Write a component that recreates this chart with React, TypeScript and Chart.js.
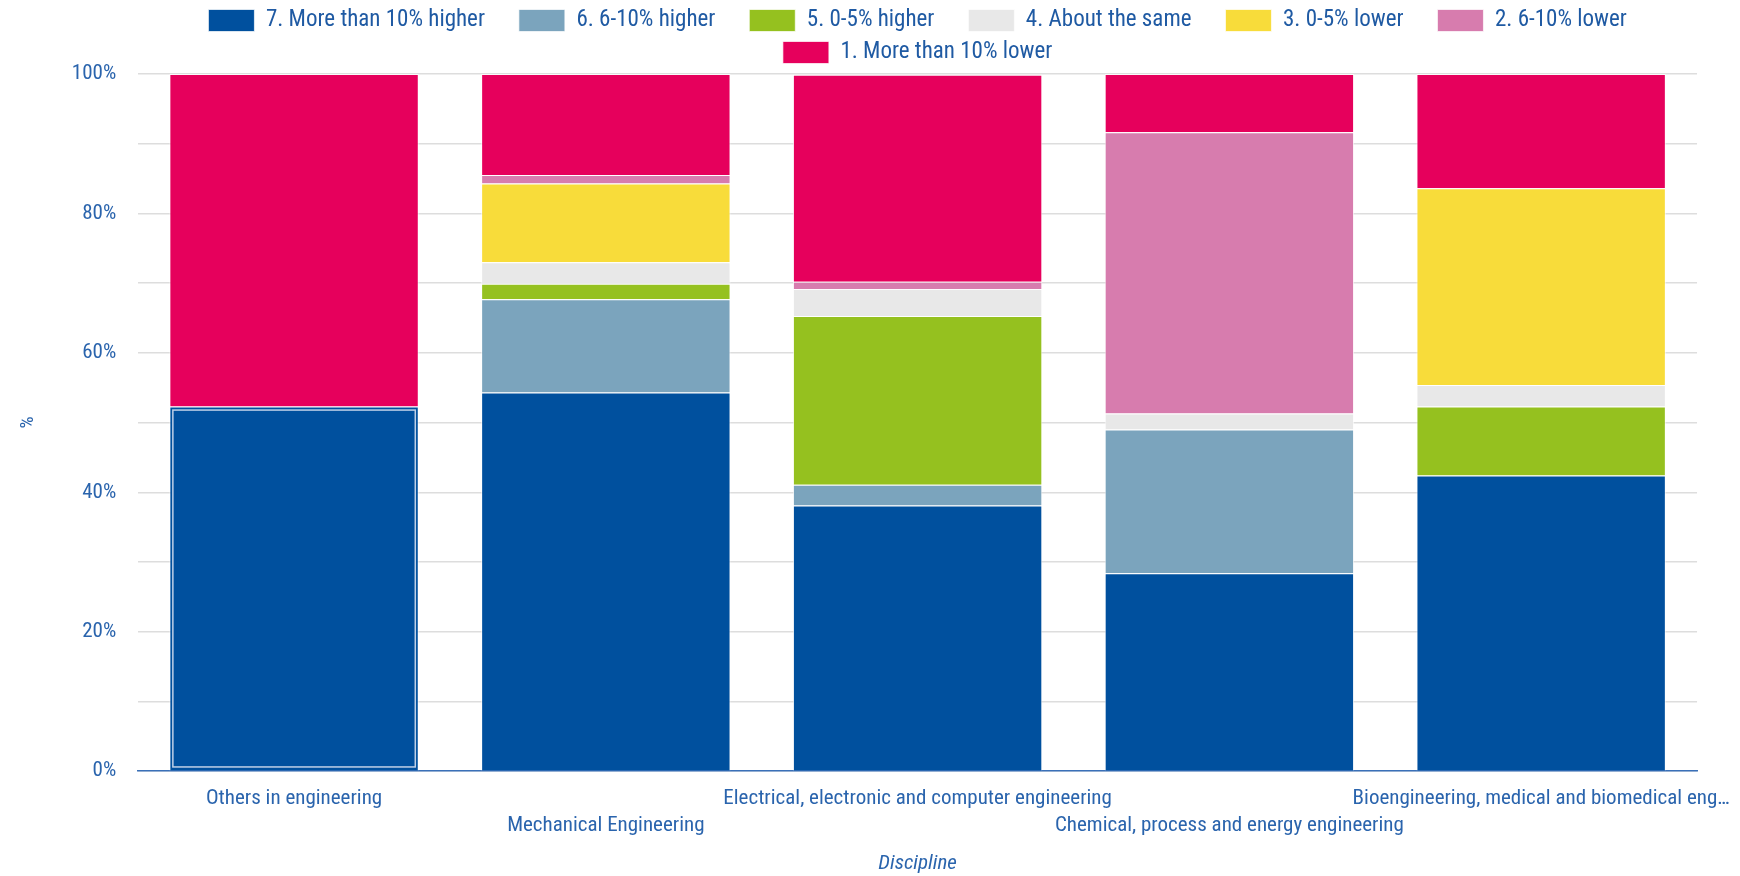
import React, { useEffect, useRef } from "react";
import { Chart, registerables } from "chart.js";

Chart.register(...registerables);

const categories: string[][] = [
  ["Others in engineering"],
  ["", "Mechanical Engineering"],
  ["Electrical, electronic and computer engineering"],
  ["", "Chemical, process and energy engineering"],
  ["Bioengineering, medical and biomedical eng…"],
];

const seriesNames = [
  "7. More than 10% higher",
  "6. 6-10% higher",
  "5. 0-5% higher",
  "4. About the same",
  "3. 0-5% lower",
  "2. 6-10% lower",
  "1. More than 10% lower",
];

const moreThan10Higher = [52.3, 54.3, 38.1, 28.4, 42.4];
const higher6to10 = [0, 13.4, 3.0, 20.6, 0];
const higher0to5 = [0, 2.2, 24.2, 0, 9.9];
const aboutSame = [0, 3.1, 3.85, 2.3, 3.1];
const lower0to5 = [0, 11.3, 0, 0, 28.2];
const lower6to10 = [0, 1.2, 1.05, 40.35, 0];
const moreThan10Lower = [47.7, 14.5, 29.7, 8.35, 16.4];

const seriesValues = [
  moreThan10Higher,
  higher6to10,
  higher0to5,
  aboutSame,
  lower0to5,
  lower6to10,
  moreThan10Lower,
];

const seriesColors = [
  "#00509e",
  "#7ba4bd",
  "#95c11f",
  "#e8e8e8",
  "#f8dc3a",
  "#d77cae",
  "#e6005c",
];

const yTicks = [0, 10, 20, 30, 40, 50, 60, 70, 80, 90, 100];

const FONT = "'Roboto Condensed', 'Liberation Sans Narrow', 'Arial Narrow', Roboto, sans-serif";
const TEXT = "#2a64ad";
const LEGEND_GAP = "\u2002\u2002\u2009";

const highlightPlugin = {
  id: "highlightFirst",
  afterDatasetsDraw(chart: any) {
    const meta = chart.getDatasetMeta(0);
    const el = meta && meta.data && meta.data[0];
    if (!el) return;
    const { x, y, base, width } = el.getProps(["x", "y", "base", "width"], true);
    const ctx = chart.ctx;
    ctx.save();
    ctx.strokeStyle = "rgba(200,215,235,0.95)";
    ctx.lineWidth = 1.5;
    const inset = 3.5;
    ctx.strokeRect(x - width / 2 + inset, y + inset, width - 2 * inset, base - y - 2 * inset);
    ctx.restore();
  },
};

export default function App() {
  const canvasRef = useRef<HTMLCanvasElement | null>(null);

  useEffect(() => {
    document.body.style.margin = "0";
    const ctx = canvasRef.current!;
    const chart = new Chart(ctx, {
      type: "bar",
      data: {
        labels: categories,
        datasets: seriesNames.map((name, i) => ({
          label: name,
          data: seriesValues[i],
          backgroundColor: seriesColors[i],
          borderColor: "rgba(255,255,255,0.7)",
          borderWidth: 1,
          categoryPercentage: 0.8,
          barPercentage: 1.0,
        })),
      },
      options: {
        animation: false,
        responsive: true,
        maintainAspectRatio: false,
        layout: { padding: { left: 17, right: 26, top: 0, bottom: 0 } },
        plugins: {
          legend: {
            position: "top",
            fullSize: false,
            labels: {
              boxWidth: 46,
              boxHeight: 22,
              padding: 9,
              color: "#1f5aa3",
              font: { family: FONT, size: 23 },
              generateLabels: (chart: any) => {
                const items = Chart.defaults.plugins.legend.labels.generateLabels(chart);
                const n = items.length;
                return items.map((it: any, i: number) => ({
                  ...it,
                  text: i >= n - 2 ? it.text : it.text + LEGEND_GAP,
                }));
              },
            },
          },
          tooltip: { enabled: false },
        },
        scales: {
          x: {
            stacked: true,
            grid: { display: false },
            border: { color: "#3a70b8", width: 1.5 },
            ticks: {
              autoSkip: false,
              maxRotation: 0,
              minRotation: 0,
              color: TEXT,
              padding: 6,
              font: { family: FONT, size: 21, lineHeight: 1.3 },
            },
            title: {
              display: true,
              text: "Discipline",
              color: TEXT,
              font: { family: FONT, size: 21, style: "italic" },
              padding: { top: 5, bottom: 0 },
            },
          },
          y: {
            stacked: true,
            min: 0,
            max: 100,
            afterBuildTicks: (axis: any) => {
              axis.ticks = yTicks.map((v) => ({ value: v }));
            },
            ticks: {
              color: TEXT,
              padding: 22,
              font: { family: FONT, size: 21 },
              callback: (v: any) => (Number(v) % 20 === 0 ? `${v}%` : ""),
            },
            grid: { color: "#dddddd", lineWidth: 1.5, drawTicks: false },
            border: { display: false },
            title: {
              display: true,
              text: "%",
              color: TEXT,
              font: { family: FONT, size: 19 },
              padding: { top: 0, bottom: 10 },
            },
          },
        },
      },
      plugins: [highlightPlugin],
    } as any);
    return () => chart.destroy();
  }, []);

  return (
    <div style={{ position: "fixed", left: 0, top: 0, width: 1740, height: 876 }}>
      <canvas ref={canvasRef} />
    </div>
  );
}
